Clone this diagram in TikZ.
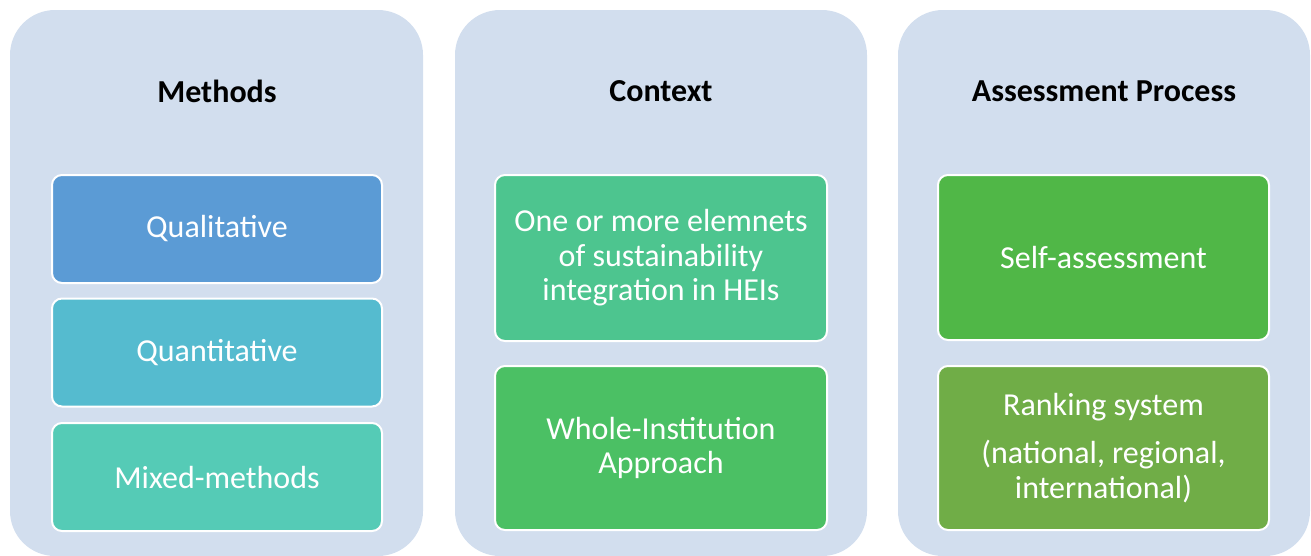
\documentclass[tikz,border=0pt]{standalone}
\usepackage{fontspec}
\setmainfont{Carlito}
\definecolor{panelbg}{HTML}{D2DEEE}
\definecolor{cQual}{HTML}{5B9BD5}
\definecolor{cQuant}{HTML}{55BBCF}
\definecolor{cMixed}{HTML}{55CBB6}
\definecolor{cOne}{HTML}{4DC58F}
\definecolor{cWhole}{HTML}{4BC064}
\definecolor{cSelf}{HTML}{50B747}
\definecolor{cRank}{HTML}{70AD47}
\begin{document}
\begin{tikzpicture}[x=1pt,y=-1pt,
  itembox/.style={draw=white, line width=2pt, rounded corners=10pt, text=white, align=center,
    font=\fontsize{32}{34.5}\selectfont, inner sep=0pt},
  ttl/.style={font=\fontsize{32}{34}\selectfont\bfseries, text=black}
]
\useasboundingbox (0,0) rectangle (1311,555);
% panels
\path[fill=panelbg, rounded corners=45pt] (10,10) rectangle (423,556);
\node[inner sep=0pt] (p1) at (216.5,283) {};
\path[fill=panelbg, rounded corners=45pt] (455,10) rectangle (867,556);
\node[inner sep=0pt] (p2) at (661,283) {};
\path[fill=panelbg, rounded corners=45pt] (898,10) rectangle (1310,556);
\node[inner sep=0pt] (p3) at (1104,283) {};
% titles
\node[ttl] (t1) at (217,91) {Methods};
\node[ttl] (t2) at (661,91) {Context};
\node[ttl] (t3) at (1104,91) {Assessment Process};
% methods
\node[itembox, fill=cQual, minimum width=330pt, minimum height=108pt] (qual) at (217,229) {Qualitative};
\node[itembox, fill=cQuant, minimum width=330pt, minimum height=108pt] (quant) at (217,352.5) {Quantitative};
\node[itembox, fill=cMixed, minimum width=330pt, minimum height=108pt] (mixed) at (217,477) {Mixed-methods};
% context
\node[itembox, fill=cOne, minimum width=332pt, minimum height=166pt] (one) at (661,258) {One or more elemnets\\of sustainability\\integration in HEIs};
\node[itembox, fill=cWhole, minimum width=332pt, minimum height=164pt] (whole) at (661,448) {Whole-Institution\\Approach};
% assessment
\node[itembox, fill=cSelf, minimum width=331pt, minimum height=165pt] (self) at (1103.5,257.5) {Self-assessment};
\node[itembox, fill=cRank, minimum width=331pt, minimum height=164pt] (rank) at (1103.5,448) {Ranking system\\[14pt](national, regional,\\international)};
\end{tikzpicture}
\end{document}
